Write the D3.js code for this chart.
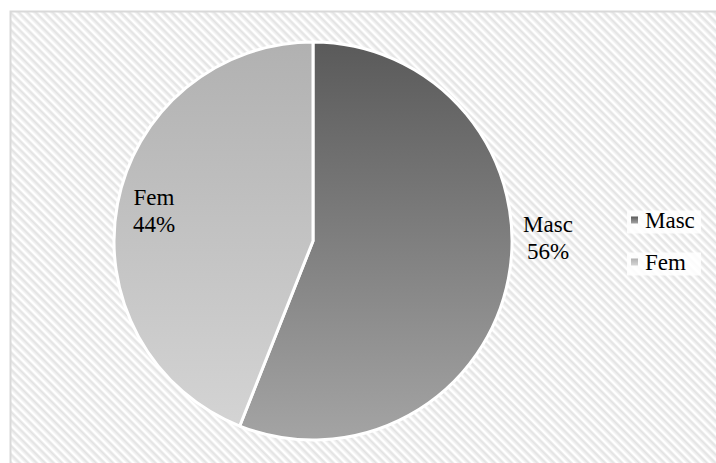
<!DOCTYPE html>
<html>
<head>
<meta charset="utf-8">
<script src="https://cdn.jsdelivr.net/npm/d3@7"></script>
<style>
  html, body { margin: 0; padding: 0; background: #ffffff; }
  svg { display: block; }
</style>
</head>
<body>
<svg id="chart" width="716" height="463"></svg>
<script>
// Gender distribution
const categories = ["Masc", "Fem"];
const values = [56, 44];
const percentLabels = ["56%", "44%"];

const width = 716, height = 463;
const FONT = '"Liberation Serif"';
const svg = d3.select("#chart");
const defs = svg.append("defs");

// Diagonal hatched background (soft stripes running top-left to bottom-right)
const pat = defs.append("pattern")
  .attr("id", "hatch")
  .attr("patternUnits", "userSpaceOnUse")
  .attr("width", 6).attr("height", 6)
  .attr("patternTransform", "rotate(45)");
pat.append("rect").attr("width", 6).attr("height", 6).attr("fill", "#ffffff");
pat.append("rect").attr("x", 0).attr("y", 0).attr("width", 6).attr("height", 1).attr("fill", "#ececec");
pat.append("rect").attr("x", 0).attr("y", 1).attr("width", 6).attr("height", 1.6).attr("fill", "#e2e2e2");
pat.append("rect").attr("x", 0).attr("y", 2.6).attr("width", 6).attr("height", 1).attr("fill", "#ececec");

svg.append("rect")
  .attr("x", 10.5).attr("y", 11.5)
  .attr("width", width + 20).attr("height", height + 20)
  .attr("fill", "url(#hatch)")
  .attr("stroke", "#d9d9d9").attr("stroke-width", 2);

// Pie geometry
const cx = 313, cy = 241, r = 199;

const gradStops = {
  Masc: ["#5a5a5a", "#a4a4a4"],
  Fem: ["#b1b1b1", "#d5d5d5"]
};
categories.forEach(c => {
  const g = defs.append("linearGradient")
    .attr("id", "grad-" + c)
    .attr("gradientUnits", "userSpaceOnUse")
    .attr("x1", 0).attr("y1", -r).attr("x2", 0).attr("y2", r);
  g.append("stop").attr("offset", "0%").attr("stop-color", gradStops[c][0]);
  g.append("stop").attr("offset", "100%").attr("stop-color", gradStops[c][1]);
});

const data = categories.map((c, i) => ({ cat: c, value: values[i], label: percentLabels[i] }));
const pie = d3.pie().value(d => d.value).sort(null);
const arc = d3.arc().innerRadius(0).outerRadius(r);
const arcs = pie(data);

const gPie = svg.append("g").attr("transform", `translate(${cx},${cy})`);
gPie.selectAll("path")
  .data(arcs)
  .join("path")
  .attr("d", arc)
  .attr("fill", d => `url(#grad-${d.data.cat})`)
  .attr("stroke", "#ffffff")
  .attr("stroke-width", 3)
  .attr("stroke-linejoin", "round");

// Data labels
const labelPos = { Masc: [548, 232], Fem: [154, 205] };
arcs.forEach(d => {
  const [x, y] = labelPos[d.data.cat];
  const t = svg.append("text")
    .attr("x", x).attr("y", y)
    .attr("text-anchor", "middle")
    .style("font-family", FONT)
    .style("font-size", "23px")
    .attr("fill", "#000000");
  t.append("tspan").attr("x", x).attr("dy", 0).text(d.data.cat);
  t.append("tspan").attr("x", x).attr("dy", 26.5).text(d.data.label);
});

// Legend
const legend = svg.append("g");
const legendY = [227.5, 269.5];
categories.forEach((c, i) => {
  const row = legend.append("g").attr("transform", `translate(0,${legendY[i]})`);
  row.append("rect")
    .attr("x", 627).attr("y", -17).attr("width", 74).attr("height", 23)
    .attr("fill", "#ffffff").attr("opacity", 0.85);
  const lg = defs.append("linearGradient")
    .attr("id", "lg-" + c)
    .attr("x1", 0).attr("y1", 0).attr("x2", 0).attr("y2", 1);
  lg.append("stop").attr("offset", "0%").attr("stop-color", gradStops[c][0]);
  lg.append("stop").attr("offset", "100%").attr("stop-color", gradStops[c][1]);
  row.append("rect")
    .attr("x", 631).attr("y", -11).attr("width", 7).attr("height", 7)
    .attr("fill", `url(#lg-${c})`);
  row.append("text")
    .attr("x", 645).attr("y", 0)
    .style("font-family", FONT)
    .style("font-size", "23px")
    .attr("fill", "#000000")
    .text(c);
});
</script>
</body>
</html>
